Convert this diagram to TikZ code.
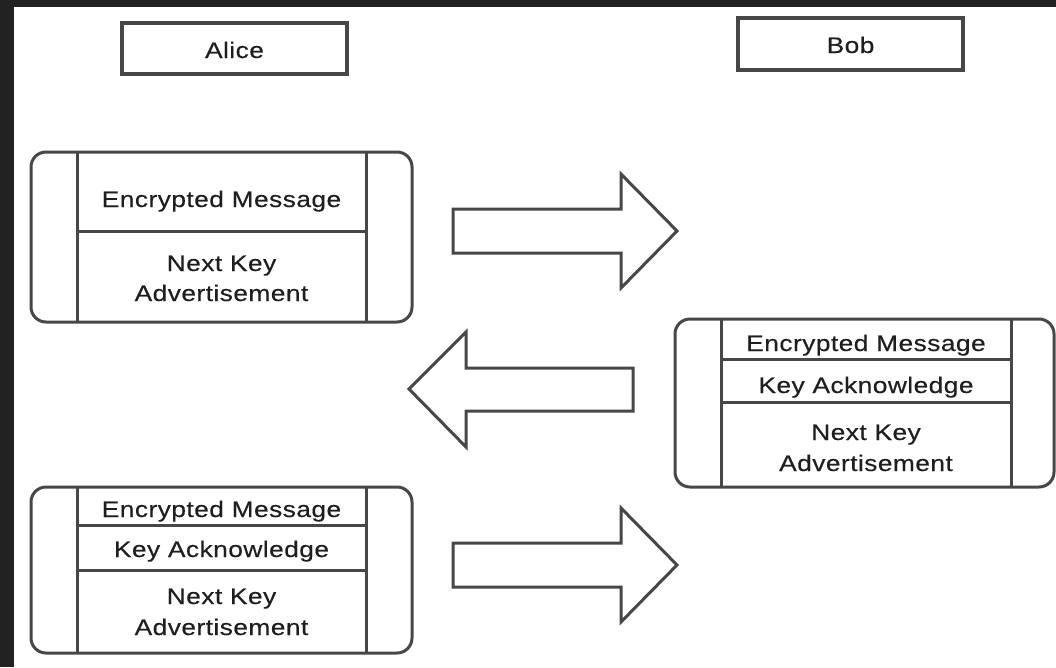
\documentclass[tikz,border=0pt]{standalone}
\usepackage{fontspec}
\setmainfont[FakeStretch=1.17,LetterSpace=2,FakeBold=0.3]{Liberation Sans}
\definecolor{frame}{HTML}{222222}
\definecolor{edge}{HTML}{474747}
\definecolor{ink}{HTML}{1E1E1E}
\begin{document}
\begin{tikzpicture}[x=1pt,y=-1pt,
  line width=3pt,
  every node/.style={inner sep=0pt,outer sep=0pt},
  lbl/.style={anchor=base,text=ink,font=\fontsize{22.5}{30}\selectfont},
  outerbox/.style={draw=edge,rounded corners=15pt},
  cell/.style={draw=edge},
  titlebox/.style={draw=edge,line width=3.5pt},
  blockarrow/.style={draw=edge,line width=3pt,line join=miter,fill=white}]
\useasboundingbox (0,0) rectangle (1056,667);
\fill[white] (0,0) rectangle (1056,667);
\fill[frame] (0,0) rectangle (1056,7);
\fill[frame] (0,0) rectangle (14,667);

% title boxes
\draw[titlebox] (122,23) rectangle (347,74);
\node[lbl] (alice) at (234.5,58) {Alice};
\draw[titlebox] (738,18) rectangle (963,70);
\node[lbl] (bob) at (850.5,53) {Bob};

% message 1 (Alice)
\draw[outerbox] (31,152) rectangle (412,322);
\draw[cell] (77,152) -- (77,322);
\draw[cell] (366,152) -- (366,322);
\draw[cell] (77,231) -- (366,231);
\node[lbl] (m1enc) at (221.5,207) {Encrypted Message};
\node[lbl] (m1next) at (221.5,271) {Next Key};
\node[lbl] (m1adv) at (221.5,301) {Advertisement};

% message 2 (Bob)
\draw[outerbox] (675,319) rectangle (1054,487);
\draw[cell] (721,319) -- (721,487);
\draw[cell] (1011,319) -- (1011,487);
\draw[cell] (721,359) -- (1011,359);
\draw[cell] (721,402) -- (1011,402);
\node[lbl] (m2enc) at (866,351) {Encrypted Message};
\node[lbl] (m2ack) at (866,393) {Key Acknowledge};
\node[lbl] (m2next) at (866,440) {Next Key};
\node[lbl] (m2adv) at (866,471) {Advertisement};

% message 3 (Alice)
\draw[outerbox] (31,487) rectangle (412,653);
\draw[cell] (77,487) -- (77,653);
\draw[cell] (366,487) -- (366,653);
\draw[cell] (77,525) -- (366,525);
\draw[cell] (77,570) -- (366,570);
\node[lbl] (m3enc) at (221.5,517) {Encrypted Message};
\node[lbl] (m3ack) at (221.5,557) {Key Acknowledge};
\node[lbl] (m3next) at (221.5,604) {Next Key};
\node[lbl] (m3adv) at (221.5,635) {Advertisement};

% block arrows
\draw[blockarrow] (453,209) -- (621,209) -- (621,174) -- (677,231) -- (621,288) -- (621,253) -- (453,253) -- cycle;
\draw[blockarrow] (633,368) -- (466,368) -- (466,332) -- (409,389) -- (466,447) -- (466,411) -- (633,411) -- cycle;
\draw[blockarrow] (453,543) -- (621,543) -- (621,508) -- (677,565) -- (621,622) -- (621,587) -- (453,587) -- cycle;
\end{tikzpicture}
\end{document}
